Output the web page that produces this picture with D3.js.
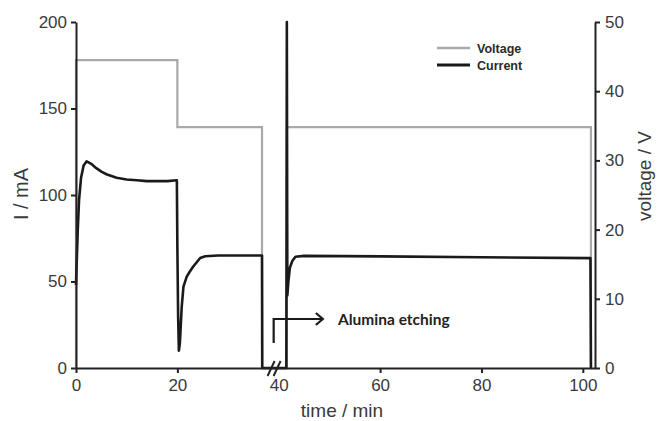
<!DOCTYPE html>
<html>
<head>
<meta charset="utf-8">
<script src="https://cdn.jsdelivr.net/npm/d3@7"></script>
<style>
  html, body { margin: 0; padding: 0; background: #fff; }
  svg { display: block; }
  text { font-family: "Liberation Sans", Arial, sans-serif; }
</style>
</head>
<body>
<svg id="chart" width="657" height="421"></svg>
<script>
// Anodization run: current (left axis, mA) and applied voltage (right axis, V) vs time.
const currentTime = [0, 0.15, 0.35, 0.6, 1.0, 1.5, 2.1, 3, 4, 5, 6, 7, 8, 10, 12, 14, 16, 18, 19.9,
  20.0, 20.15, 20.3, 20.5, 20.85, 21.2, 21.85, 22.4, 23.1, 24.5, 25.5, 28, 32, 36.7,
  36.75, 41.5, 41.6, 41.7, 41.9, 42.2, 42.7, 43.3, 45, 60, 80, 101.5, 101.6];
const currentMA = [48, 62, 80, 97, 110, 117, 119.5, 118, 115.5, 113.5, 112, 111, 110, 109, 108.5, 108, 108, 108, 108.5,
  70, 30, 10, 14.5, 35, 47, 52.8, 55.5, 58.5, 63.6, 64.6, 65, 65, 65,
  0, 0, 200, 42, 50, 58, 62, 64.3, 64.8, 64.5, 64, 63.5, 0];

const voltageTime = [0, 0, 20, 20, 36.7, 36.7, 41.6, 41.6, 101.6, 101.6];
const voltageV = [0, 44.5, 44.5, 34.8, 34.8, 0, 0, 34.8, 34.8, 0];

const xTicks = [0, 20, 40, 60, 80, 100];
const yLeftTicks = [0, 50, 100, 150, 200];
const yRightTicks = [0, 10, 20, 30, 40, 50];
const seriesNames = ["Voltage", "Current"];

const svg = d3.select("#chart");
const x = d3.scaleLinear().domain([0, 102.4]).range([76, 595]);
const yI = d3.scaleLinear().domain([0, 200]).range([368, 22]);
const yV = d3.scaleLinear().domain([0, 50]).range([368, 22]);

const axisColor = "#222";
const textColor = "#3a3a3a";

// data lines
const voltagePts = voltageTime.map((t, i) => [t, voltageV[i]]);
const currentPts = currentTime.map((t, i) => [t, currentMA[i]]);

svg.append("path")
  .attr("d", d3.line().x(d => x(d[0])).y(d => yV(d[1]))(voltagePts))
  .attr("fill", "none").attr("stroke", "#a9a9a9").attr("stroke-width", 2.2)
  .attr("stroke-linejoin", "miter");

svg.append("path")
  .attr("d", d3.line().x(d => x(d[0])).y(d => yI(d[1]))(currentPts))
  .attr("fill", "none").attr("stroke", "#1a1a1a").attr("stroke-width", 2.6)
  .attr("stroke-linejoin", "round");

// axes
function styleAxis(g) {
  g.select(".domain").attr("stroke", axisColor).attr("stroke-width", 2);
  g.selectAll(".tick line").attr("stroke", axisColor).attr("stroke-width", 2);
  g.selectAll(".tick text").attr("fill", textColor).style("font-size", "17px");
}

const gx = svg.append("g").attr("transform", "translate(0,368)")
  .call(d3.axisBottom(x).tickValues(xTicks).tickSize(5).tickPadding(6).tickSizeOuter(0))
  .call(styleAxis);
gx.selectAll(".tick").filter(d => d === 40).select("line").remove();

const gl = svg.append("g").attr("transform", "translate(76,0)")
  .call(d3.axisLeft(yI).tickValues(yLeftTicks).tickSize(5).tickPadding(4).tickSizeOuter(0))
  .call(styleAxis);

const gr = svg.append("g").attr("transform", "translate(595,0)")
  .call(d3.axisRight(yV).tickValues(yRightTicks).tickSize(5).tickPadding(5).tickSizeOuter(0))
  .call(styleAxis);

// axis break marks on the time axis
[0, 6].forEach(dx => {
  svg.append("line")
    .attr("x1", x(37.8) + dx).attr("y1", 376)
    .attr("x2", x(37.8) + dx + 7).attr("y2", 361)
    .attr("stroke", axisColor).attr("stroke-width", 2);
});

// axis titles
svg.append("text").attr("x", 342).attr("y", 417).attr("text-anchor", "middle")
  .attr("fill", textColor).style("font-size", "19px").text("time / min");
svg.append("text").attr("transform", "translate(28,194) rotate(-90)").attr("text-anchor", "middle")
  .attr("fill", textColor).style("font-size", "20px").text("I / mA");
svg.append("text").attr("transform", "translate(651,176) rotate(-90)").attr("text-anchor", "middle")
  .attr("fill", textColor).style("font-size", "19px").text("voltage / V");

// legend
const legendColors = ["#a9a9a9", "#1a1a1a"];
const legendWidths = [2.4, 3];
seriesNames.forEach((name, i) => {
  const ly = 48 + i * 17;
  svg.append("line").attr("x1", 437).attr("x2", 470).attr("y1", ly).attr("y2", ly)
    .attr("stroke", legendColors[i]).attr("stroke-width", legendWidths[i]);
  svg.append("text").attr("x", 477).attr("y", ly + 4.5)
    .attr("fill", "#2a2a2a").style("font-size", "12.5px").style("font-weight", "bold").text(name);
});

// annotation arrow
const ann = svg.append("g").attr("stroke", "#1a1a1a").attr("stroke-width", 2.2).attr("fill", "none");
ann.append("path").attr("d", `M${x(39)},343 V319 H${x(48.7)}`);
ann.append("path").attr("d", `M${x(48.7) - 7},313 L${x(48.7)},319 L${x(48.7) - 7},325`);
svg.append("text").attr("x", 338).attr("y", 325)
  .attr("fill", "#222").style("font-family", "Lato, 'Open Sans', sans-serif")
  .style("font-size", "15.5px").style("font-weight", "bold").text("Alumina etching");
</script>
</body>
</html>
